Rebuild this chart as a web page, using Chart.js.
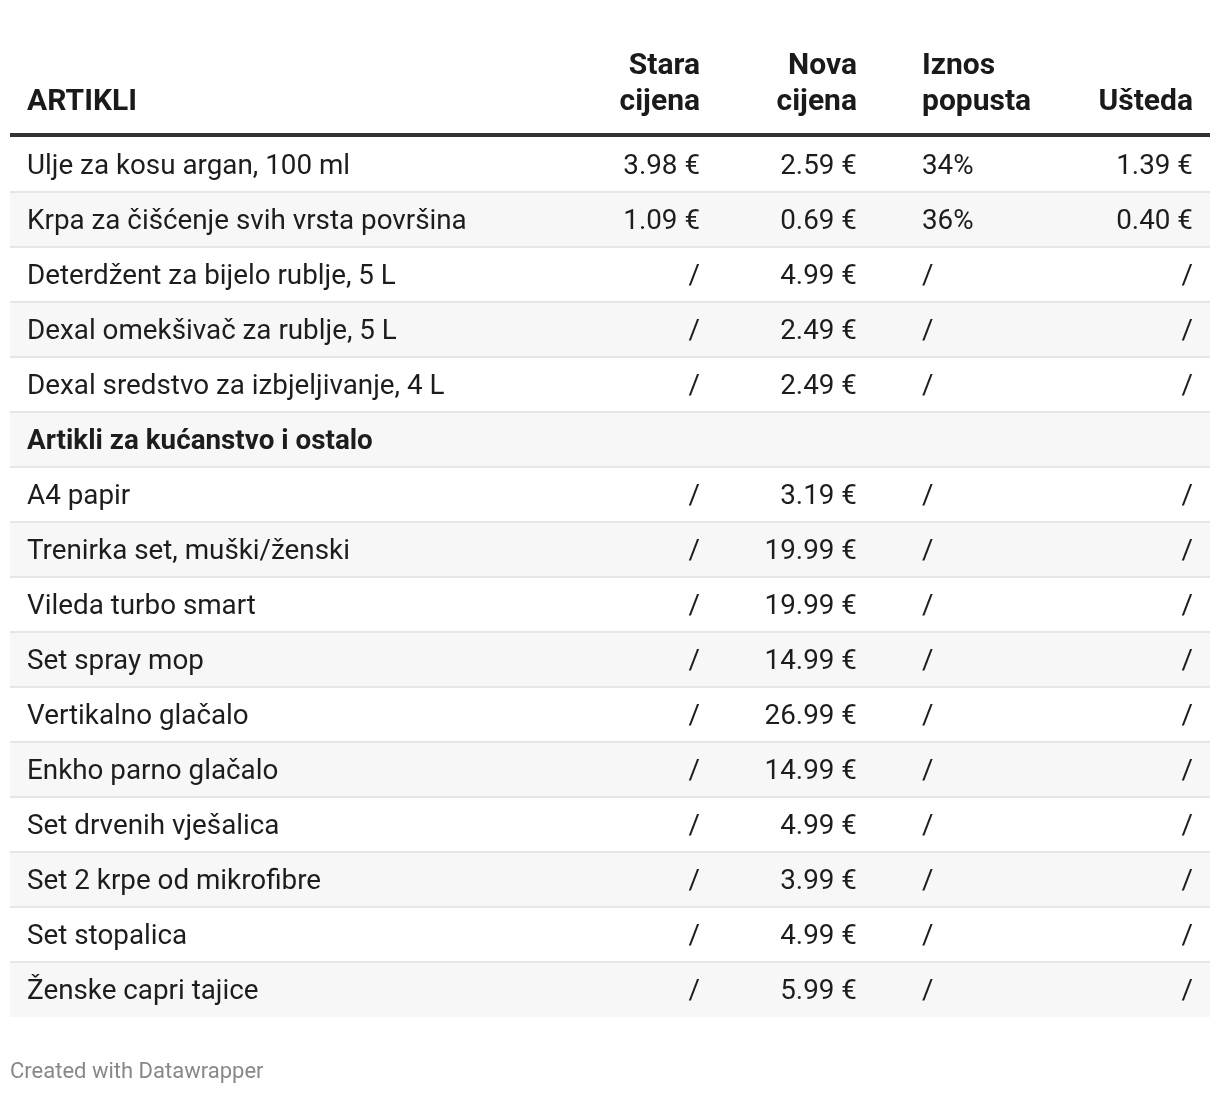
<!DOCTYPE html>
<html>
<head>
<meta charset="utf-8">
<script src="https://cdn.jsdelivr.net/npm/chart.js@4"></script>
<style>
  body { margin: 0; background: #fff; }
  #wrap { width: 1220px; height: 1094px; }
</style>
</head>
<body>
<div id="wrap"><canvas id="priceTable" width="1220" height="1094"></canvas></div>
<script>
// table content
const items = [
    'Ulje za kosu argan, 100 ml',
    'Krpa za čišćenje svih vrsta površina',
    'Deterdžent za bijelo rublje, 5 L',
    'Dexal omekšivač za rublje, 5 L',
    'Dexal sredstvo za izbjeljivanje, 4 L',
    'Artikli za kućanstvo i ostalo',
    'A4 papir',
    'Trenirka set, muški/ženski',
    'Vileda turbo smart',
    'Set spray mop',
    'Vertikalno glačalo',
    'Enkho parno glačalo',
    'Set drvenih vješalica',
    'Set 2 krpe od mikrofibre',
    'Set stopalica',
    'Ženske capri tajice'
];
const oldPrice = ['3.98 €', '1.09 €', '/', '/', '/', '', '/', '/', '/', '/', '/', '/', '/', '/', '/', '/'];
const newPrice = ['2.59 €', '0.69 €', '4.99 €', '2.49 €', '2.49 €', '', '3.19 €', '19.99 €', '19.99 €', '14.99 €', '26.99 €', '14.99 €', '4.99 €', '3.99 €', '4.99 €', '5.99 €'];
const discount = ['34%', '36%', '/', '/', '/', '', '/', '/', '/', '/', '/', '/', '/', '/', '/', '/'];
const saving = ['1.39 €', '0.40 €', '/', '/', '/', '', '/', '/', '/', '/', '/', '/', '/', '/', '/', '/'];
const groupLabel = 'Artikli za kućanstvo i ostalo';
const headers = [['ARTIKLI'], ['Stara', 'cijena'], ['Nova', 'cijena'], ['Iznos', 'popusta'], ['Ušteda']];

// column anchors on the x scale (0..1 across the table)
const columns = [
    { at: 0.0142, align: 'left' },
    { at: 0.575, align: 'right' },
    { at: 0.7058, align: 'right' },
    { at: 0.76, align: 'left' },
    { at: 0.9858, align: 'right' }
];

const tableText = {
    id: 'tableText',
    afterDraw(chart) {
        const { ctx, chartArea } = chart;
        const x = chart.scales.x;
        const y = chart.scales.y;
        const cells = [items, oldPrice, newPrice, discount, saving];
        ctx.save();

        // header
        ctx.fillStyle = '#1a1a1a';
        ctx.textBaseline = 'alphabetic';
        ctx.font = 'bold 30px Roboto';
        headers.forEach((lines, c) => {
            ctx.textAlign = columns[c].align;
            const px = x.getPixelForValue(columns[c].at);
            lines.slice().reverse().forEach((line, k) => {
                ctx.fillText(line, px, chartArea.top - 27 - k * 36);
            });
        });
        ctx.fillStyle = '#333333';
        ctx.fillRect(chartArea.left, chartArea.top - 4, chartArea.right - chartArea.left, 4);

        // body cells
        items.forEach((name, i) => {
            const py = y.getPixelForValue(i) + 9;
            const isGroup = name === groupLabel;
            ctx.fillStyle = '#1d1d1d';
            ctx.font = isGroup ? 'bold 27.8px Roboto' : '27.8px Roboto';
            cells.forEach((col, c) => {
                if (!col[i]) return;
                ctx.textAlign = columns[c].align;
                ctx.fillText(col[i], x.getPixelForValue(columns[c].at), py);
            });
        });

        // footer
        ctx.font = '22px Roboto';
        ctx.fillStyle = '#888888';
        ctx.textAlign = 'left';
        ctx.fillText('Created with Datawrapper', 10, chartArea.bottom + 61);
        ctx.restore();
    }
};

function draw() {
    new Chart(document.getElementById('priceTable'), {
        type: 'bar',
        data: {
            labels: items,
            datasets: [{
                data: items.map(() => [0, 1]),
                backgroundColor: items.map((_, i) => i % 2 ? '#f7f7f7' : '#ffffff'),
                borderWidth: 0,
                barPercentage: 1,
                categoryPercentage: 1
            }]
        },
        options: {
            indexAxis: 'y',
            responsive: false,
            animation: false,
            events: [],
            layout: { padding: { top: 137, bottom: 77, left: 10, right: 10 } },
            plugins: {
                legend: { display: false },
                tooltip: { enabled: false }
            },
            scales: {
                x: { type: 'linear', min: 0, max: 1, display: false },
                y: {
                    type: 'category',
                    border: { display: false },
                    ticks: { display: false },
                    grid: {
                        z: 1,
                        offset: true,
                        drawTicks: false,
                        lineWidth: 2,
                        color: c => (c.index === undefined || c.index === 0) ? 'rgba(0,0,0,0)' : '#e6e6e6'
                    }
                }
            }
        },
        plugins: [tableText]
    });
}

document.fonts.load('28px Roboto').then(() => document.fonts.load('bold 28px Roboto')).then(draw, draw);
</script>
</body>
</html>
